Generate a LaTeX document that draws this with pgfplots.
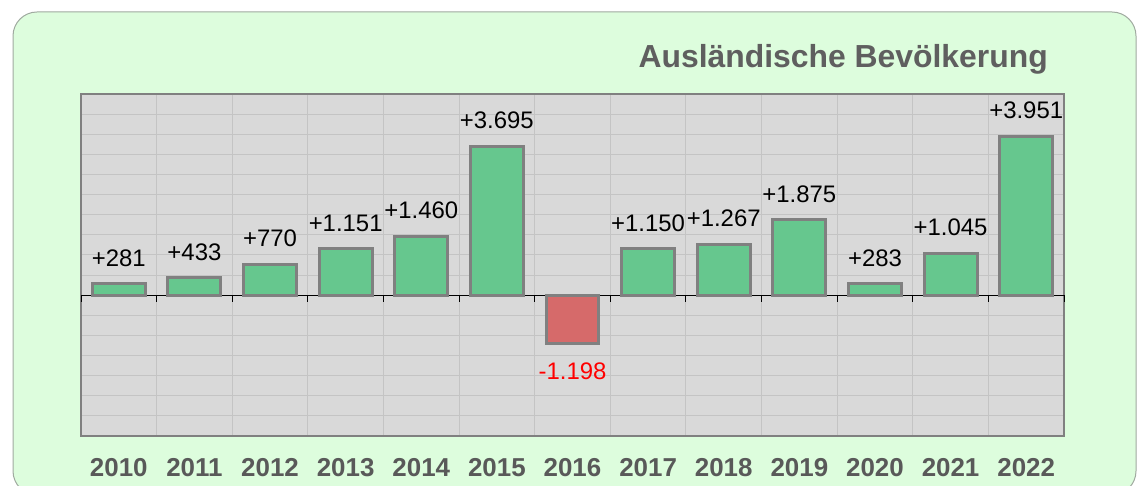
\documentclass[border=0pt]{standalone}
\usepackage{pgfplots}
\pgfplotsset{compat=1.18}
\usepackage{fontspec}
\setmainfont{Liberation Sans}
\definecolor{bgc}{RGB}{221,253,221}
\definecolor{bgborder}{RGB}{160,170,160}
\definecolor{plotbg}{RGB}{217,217,217}
\definecolor{gridc}{RGB}{196,196,196}
\definecolor{axc}{RGB}{128,128,128}
\definecolor{barg}{RGB}{102,199,142}
\definecolor{barr}{RGB}{214,106,106}
\definecolor{titlec}{RGB}{95,95,95}
\definecolor{yearc}{RGB}{89,89,89}
\begin{document}
\begin{tikzpicture}
\useasboundingbox (0,0) rectangle (1137bp,486bp);
\begin{scope}
\clip (0,0) rectangle (1137bp,486bp);
\draw[rounded corners=24bp, fill=bgc, draw=bgborder, line width=1bp] (13bp,-9bp) rectangle (1136bp,474bp);
\end{scope}
\node[anchor=base east, inner sep=0pt, text=titlec, font=\fontsize{32}{32}\selectfont\bfseries] at (1048bp,418.3bp) {Ausländische Bevölkerung};
\begin{axis}[
  at={(81bp,50bp)}, anchor=south west,
  scale only axis, width=983bp, height=342bp,
  xmin=-0.5, xmax=12.5, ymin=-3500, ymax=5000,
  axis background/.style={fill=plotbg},
  axis line style={draw=axc, line width=2.5bp},
  ytick={-3500,-3000,...,5000}, yticklabels={},
  ymajorgrids, major grid style={draw=gridc, line width=1bp},
  xtick={0,...,12},
  xticklabels={2010,2011,2012,2013,2014,2015,2016,2017,2018,2019,2020,2021,2022},
  minor xtick={0.5,1.5,...,11.5}, xminorgrids,
  minor grid style={draw=gridc, line width=1bp},
  major tick length=0pt, minor tick length=0pt,
  xticklabel style={anchor=base, inner sep=0pt, yshift=-40bp, text=yearc, font=\fontsize{26}{26}\selectfont\bfseries},
  ybar, bar width=0.70, bar shift=0pt,
  nodes near coords={\pgfmathprintnumber[fixed,precision=0,1000 sep={.},showpos,assume math mode=true]{\pgfplotspointmeta}},
  every node near coord/.append style={font=\fontsize{24}{24}\selectfont, inner sep=0pt},
  clip=false,
]
\draw[black, line width=1bp] (axis cs:-0.5,0) -- (axis cs:12.5,0);
\pgfplotsinvokeforeach{-0.5,0.5,...,12.5}{
  \draw[black, line width=1bp] (axis cs:#1,0) -- ([yshift=-7bp]axis cs:#1,0);
}
\addplot[fill=barg, draw=axc, line width=3bp,
  every node near coord/.append style={anchor=south, yshift=16bp, text=black}]
  coordinates {(0,281) (1,433) (2,770) (3,1151) (4,1460) (5,3695) (7,1150) (8,1267) (9,1875) (10,283) (11,1045) (12,3951)};
\addplot[fill=barr, draw=axc, line width=3bp,
  every node near coord/.append style={anchor=north, yshift=-18bp, text=red}]
  coordinates {(6,-1198)};
\end{axis}
\end{tikzpicture}
\end{document}
